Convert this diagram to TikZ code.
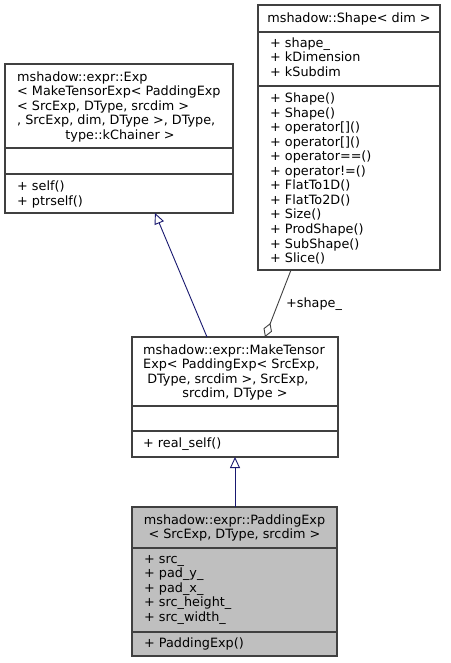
\documentclass[tikz,border=0pt]{standalone}
\usepackage{fontspec}
\setmainfont{DejaVu Sans}
\usetikzlibrary{arrows.meta}
\definecolor{edgeblue}{HTML}{191970}
\definecolor{boxgray}{HTML}{404040}
\definecolor{fillgray}{HTML}{BFBFBF}
\begin{document}
\begin{tikzpicture}[x=1pt,y=-1pt,
  box/.style={draw=boxgray, line width=1.1pt, anchor=north west, inner sep=0pt, outer sep=0pt},
  txt/.style={anchor=base west, inner sep=0pt, font=\fontsize{12.8}{14.5}\selectfont},
  ctxt/.style={anchor=base, inner sep=0pt, font=\fontsize{12.8}{14.5}\selectfont},
  divider/.style={draw=boxgray, line width=1.1pt},
  inherit/.style={draw=edgeblue, line width=0.9pt, -{Triangle[open,length=11pt,width=10pt,fill=white]}},
  aggr/.style={draw=boxgray, line width=0.9pt, -{Diamond[open,length=15pt,width=9pt,fill=white]}}
]
\useasboundingbox (0,0) rectangle (450,663);
\fill[white] (0,0) rectangle (450,663);

% ---------- Exp box ----------
\node[box, minimum width=228pt, minimum height=149pt] (exp) at (5,64) {};
\draw[divider] (5,148) -- (233,148);
\draw[divider] (5,174) -- (233,174);
\node[txt] (exph1) at (17,81.5) {mshadow::expr::Exp};
\node[txt] (exph2) at (17,95.9) {< MakeTensorExp< PaddingExp};
\node[txt] (exph3) at (17,110.3) {< SrcExp, DType, srcdim >};
\node[txt] (exph4) at (17,124.7) {, SrcExp, dim, DType >, DType,};
\node[ctxt] (exph5) at (120,139.1) {type::kChainer >};
\node[txt] (expm1) at (17,190.5) {+ self()};
\node[txt] (expm2) at (17,205) {+ ptrself()};

% ---------- Shape box ----------
\node[box, minimum width=182pt, minimum height=265pt] (shape) at (258,5) {};
\draw[divider] (258,32) -- (440,32);
\draw[divider] (258,86) -- (440,86);
\node[ctxt] (shapeh) at (349,22.5) {mshadow::Shape< dim >};
\foreach \t [count=\i from 0] in {{shape\_},{kDimension},{kSubdim}}
  \node[txt] (shapea\i) at (270,47.5+14.5*\i) {+ \t};
\foreach \t [count=\i from 0] in {{Shape()},{Shape()},{operator[]()},{operator[]()},{operator==()},{operator!=()},{FlatTo1D()},{FlatTo2D()},{Size()},{ProdShape()},{SubShape()},{Slice()}}
  \node[txt] (shapem\i) at (270,102.5+14.55*\i) {+ \t};

% ---------- MakeTensorExp box ----------
\node[box, minimum width=206pt, minimum height=120pt] (mte) at (132,337) {};
\draw[divider] (132,406) -- (338,406);
\draw[divider] (132,431) -- (338,431);
\node[txt] (mteh1) at (143,354.5) {mshadow::expr::MakeTensor};
\node[txt] (mteh2) at (143,368.9) {Exp< PaddingExp< SrcExp,};
\node[txt] (mteh3) at (143,383.3) {\ DType, srcdim >, SrcExp,};
\node[ctxt] (mteh4) at (235,397.7) {srcdim, DType >};
\node[txt] (mtem1) at (143,447.5) {+ real\_self()};

% ---------- PaddingExp box ----------
\node[box, fill=fillgray, minimum width=205pt, minimum height=149pt] (pad) at (132,507) {};
\draw[divider] (132,548) -- (337,548);
\draw[divider] (132,632) -- (337,632);
\node[ctxt] (padh1) at (234.5,524.5) {mshadow::expr::PaddingExp};
\node[ctxt] (padh2) at (234.5,538.9) {< SrcExp, DType, srcdim >};
\foreach \t [count=\i from 0] in {{src\_},{pad\_y\_},{pad\_x\_},{src\_height\_},{src\_width\_}}
  \node[txt] (pada\i) at (144,563.5+14.4*\i) {+ \t};
\node[txt] (padm1) at (144,647.5) {+ PaddingExp()};

% ---------- connectors ----------
\draw[inherit] ([xshift=103pt]pad.north west) -- ([xshift=103pt]mte.south west);
\draw[inherit] ([xshift=75pt]mte.north west) -- ([xshift=150pt]exp.south west);
\draw[aggr] ([xshift=33pt]shape.south west) -- ([xshift=133pt]mte.north west);
\node[txt] (shapelbl) at (286,307.5) {+shape\_};
\end{tikzpicture}
\end{document}
